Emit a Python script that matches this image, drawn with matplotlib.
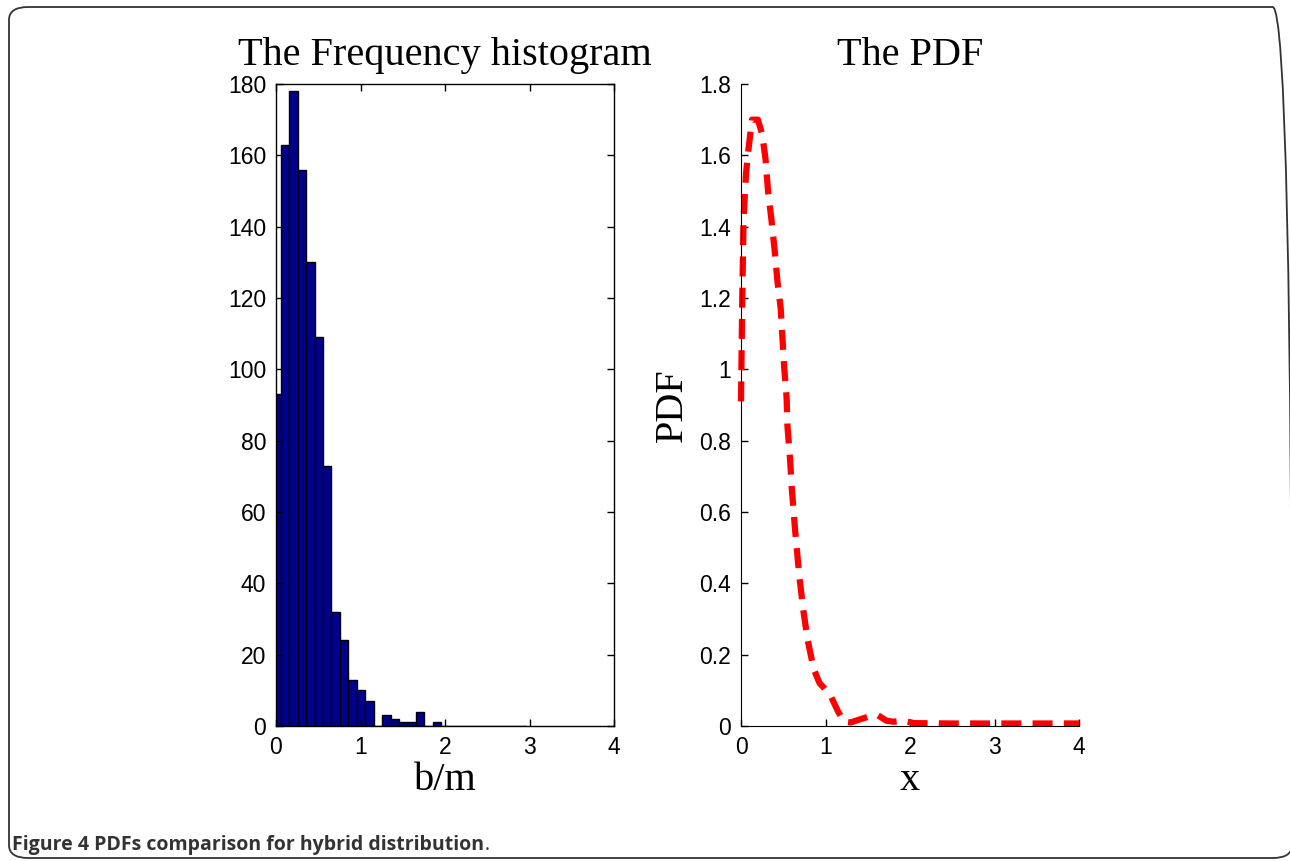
import matplotlib
matplotlib.use("Agg")
import matplotlib.pyplot as plt
from matplotlib.patches import FancyBboxPatch
import numpy as np

# ---- data ----
bin_width = 0.1
bin_centers = [0.006 + 0.1 * k for k in range(30)]
counts = [93, 163, 178, 156, 130, 109, 73, 32, 24, 13, 10, 7, 0, 3, 2, 1, 1, 4, 0, 1,
          0, 0, 0, 0, 0, 0, 0, 0, 0, 0]

pdf_x = [0.0, 0.015, 0.03, 0.06, 0.09, 0.13, 0.2, 0.25, 0.29, 0.32, 0.36, 0.40, 0.43,
         0.47, 0.49, 0.51, 0.54, 0.55, 0.58, 0.60, 0.64, 0.69, 0.74, 0.79, 0.86, 0.93,
         0.99, 1.07, 1.15, 1.22, 1.30, 1.40, 1.52, 1.62, 1.72, 1.80, 1.92, 2.05, 2.5,
         3.0, 3.5, 4.0]
pdf_y = [0.91, 1.20, 1.42, 1.55, 1.62, 1.70, 1.70, 1.66, 1.59, 1.50, 1.42, 1.33, 1.25,
         1.17, 1.09, 1.01, 0.92, 0.84, 0.75, 0.67, 0.55, 0.42, 0.32, 0.24, 0.16, 0.12,
         0.105, 0.08, 0.04, 0.012, 0.01, 0.018, 0.027, 0.03, 0.015, 0.012, 0.015, 0.008,
         0.007, 0.007, 0.007, 0.007]

x_ticks = [0, 1, 2, 3, 4]
hist_yticks = [0, 20, 40, 60, 80, 100, 120, 140, 160, 180]
pdf_yticks = [0, 0.2, 0.4, 0.6, 0.8, 1.0, 1.2, 1.4, 1.6, 1.8]
pdf_yticklabels = ["0", "0.2", "0.4", "0.6", "0.8", "1", "1.2", "1.4", "1.6", "1.8"]

W, H = 1290, 861
fig = plt.figure(figsize=(W / 100, H / 100), dpi=100)

serif = "Liberation Serif"
sans = "Liberation Sans"
TICK = 16.5
BIG = 29

# border
border = FancyBboxPatch((9 / W, 1 - 858 / H), (1290 - 9 + 2) / W, (858 - 7) / H,
                        boxstyle="round,pad=0,rounding_size=0.015",
                        transform=fig.transFigure, fill=False, edgecolor="#333333",
                        linewidth=1.3, clip_on=False)
fig.patches.append(border)

# ---- histogram ----
ax1 = fig.add_axes([276 / W, 1 - 726 / H, 338 / W, 642 / H])
ax1.bar(bin_centers, counts, width=bin_width, color="#00008f", edgecolor="black",
        linewidth=1.0, align="center")
ax1.set_xlim(0, 4)
ax1.set_ylim(0, 180)
ax1.set_xticks(x_ticks)
ax1.set_yticks(hist_yticks)
ax1.tick_params(direction="in", length=5, width=1, labelsize=TICK, top=True, right=True,
                pad=7)
for lab in ax1.get_xticklabels() + ax1.get_yticklabels():
    lab.set_fontfamily(sans)
for s in ax1.spines.values():
    s.set_linewidth(1.0)
ax1.set_title("The Frequency histogram", fontfamily=serif, fontsize=BIG, pad=14)
ax1.set_xlabel("b/m", fontfamily=serif, fontsize=BIG, labelpad=2)

# ---- PDF ----
ax2 = fig.add_axes([741 / W, 1 - 726 / H, 338 / W, 642 / H])
ax2.plot(pdf_x, pdf_y, color="red", linewidth=4.5, linestyle=(0, (3.2, 1.8)),
         solid_capstyle="butt", dash_capstyle="butt", clip_on=False)
ax2.set_xlim(0, 4)
ax2.set_ylim(0, 1.8)
ax2.set_xticks(x_ticks)
ax2.set_yticks(pdf_yticks)
ax2.set_yticklabels(pdf_yticklabels)
ax2.spines["top"].set_visible(False)
ax2.spines["right"].set_visible(False)
ax2.tick_params(direction="in", length=5, width=1, labelsize=TICK, pad=7)
for lab in ax2.get_xticklabels() + ax2.get_yticklabels():
    lab.set_fontfamily(sans)
ax2.set_title("The PDF", fontfamily=serif, fontsize=BIG, pad=14)
ax2.set_xlabel("x", fontfamily=serif, fontsize=BIG, labelpad=2)
ax2.set_ylabel("PDF", fontfamily=serif, fontsize=BIG, labelpad=6)

# caption
cap_y = 1 - 845 / H
t1 = fig.text(12 / W, cap_y, "Figure 4 PDFs comparison for hybrid distribution",
              fontfamily="Open Sans", fontweight="bold", fontsize=15, color="#333333",
              va="center", ha="left")
fig.canvas.draw()
r = fig.canvas.get_renderer()
bb = t1.get_window_extent(r)
t1.set_fontsize(15 * 474 / bb.width)
fig.canvas.draw()
bb = t1.get_window_extent(r)
fig.text((bb.x1 + 1) / W, cap_y, ".", fontfamily="Open Sans",
         fontsize=t1.get_fontsize(), color="#333333", va="center", ha="left")

fig.savefig("out.png", dpi=100)
